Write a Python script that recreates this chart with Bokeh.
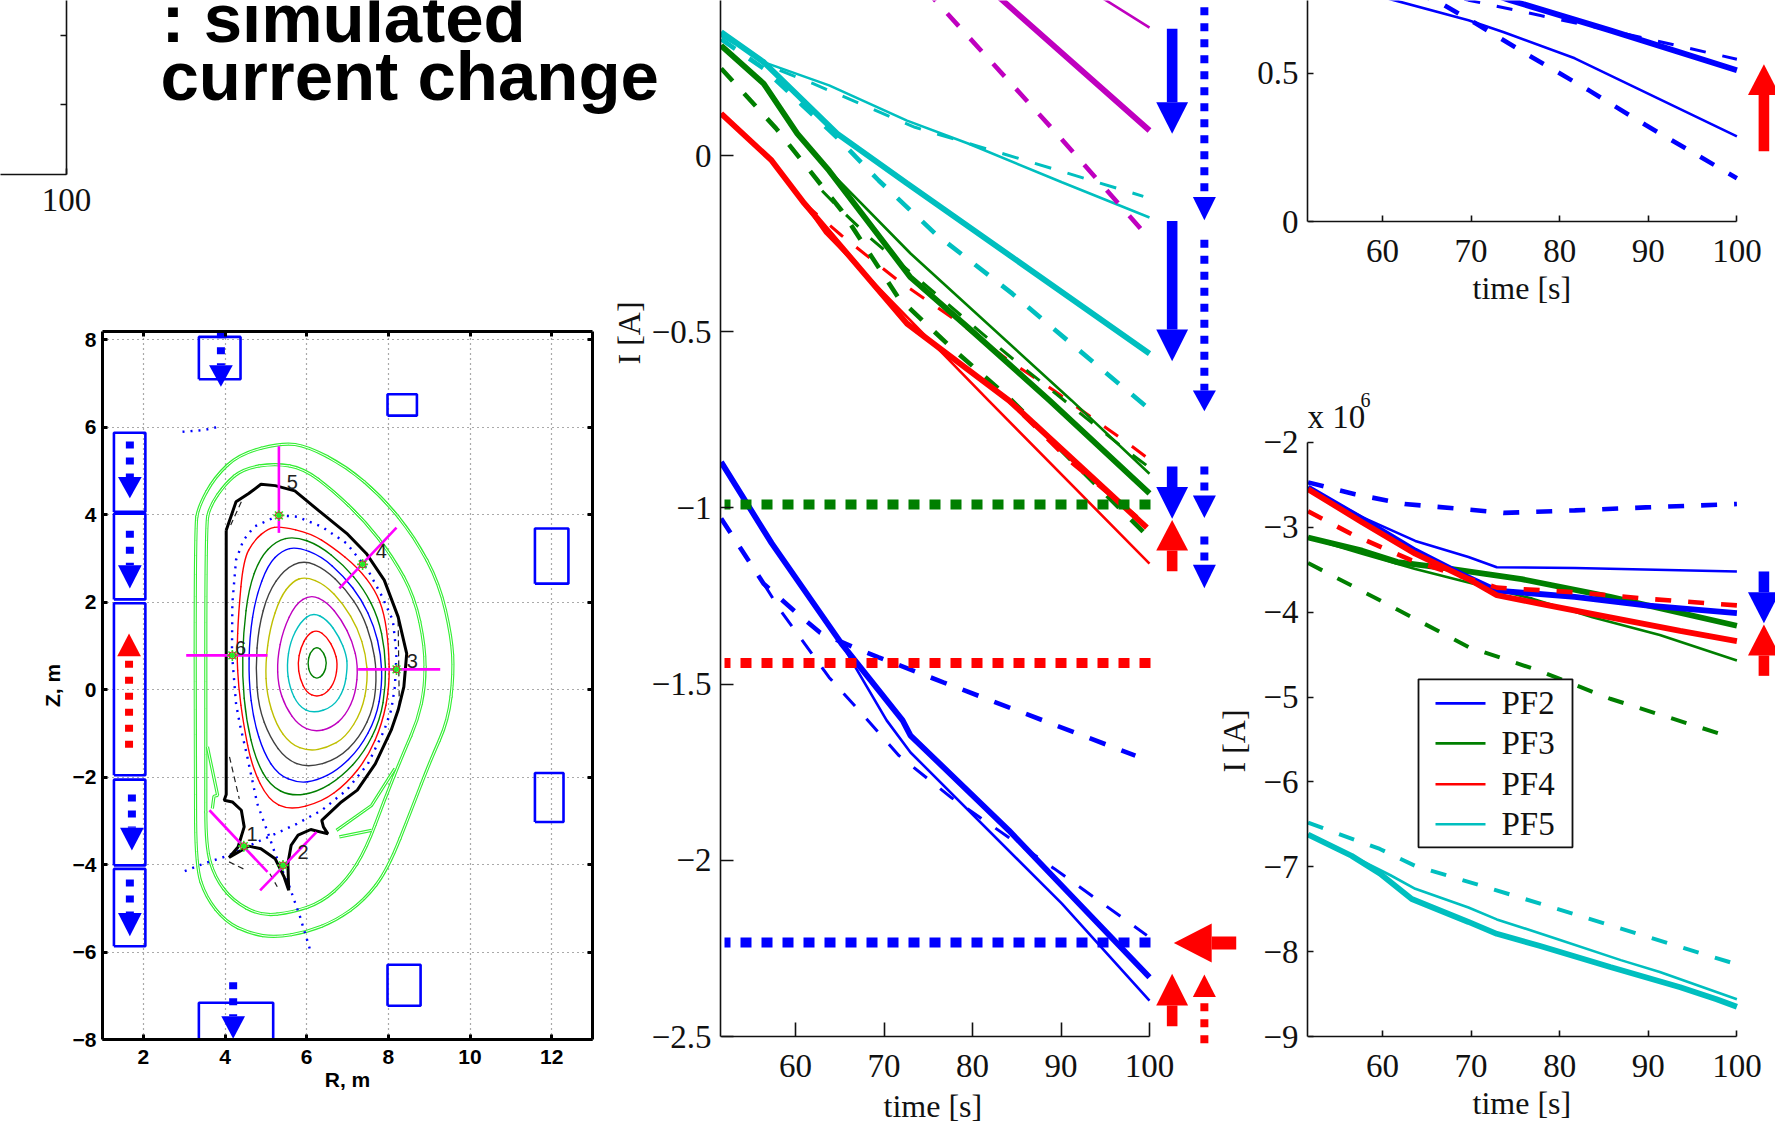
from bokeh.plotting import figure
from bokeh.models import Range1d, Label, LinearAxis, FixedTicker, Title
from bokeh.layouts import column
from bokeh.core.properties import value
from bokeh.embed import file_html
from bokeh.resources import INLINE

BLUE, GREEN, RED, CYAN, PURPLE = "#0000ff", "#007f00", "#ff0000", "#00bfbf", "#bf00bf"
SERIF, SANS = "Liberation Serif", "Liberation Sans"

# ------------------------------------------------------------ middle panel (t [s], I [A])
M_cyan_thick = ([51.6, 56.4, 64.7, 72.6, 100], [0.35, 0.265, 0.062, -0.079, -0.562])
M_cyan_thin = ([51.6, 56.4, 63.8, 72.6, 79.5, 90.1, 100], [0.35, 0.265, 0.199, 0.099, 0.034, -0.076, -0.176])
M_cyan_thin_d = ([51.6, 58.3, 62, 73.5, 80.4, 91, 99.3], [0.34, 0.241, 0.204, 0.08, 0.028, -0.052, -0.116])
M_cyan_thick_d = ([51.6, 56.4, 60.6, 64.7, 69.4, 75.8, 84.5, 93.8, 100], [0.33, 0.247, 0.147, 0.051, -0.071, -0.222, -0.392, -0.59, -0.72])
M_pur_thick = ([80, 83.4, 100], [0.516, 0.44, 0.071])
M_pur_thin = ([90, 95.1, 100], [0.52, 0.44, 0.363])
M_pur_d = ([72, 75.8, 89.2, 100], [0.546, 0.44, 0.071, -0.236])
M_grn_thick = ([51.6, 56.4, 60.2, 63.8, 73, 79.5, 88.7, 100], [0.312, 0.204, 0.062, -0.043, -0.346, -0.488, -0.695, -0.959])
M_grn_thin = ([51.6, 56.4, 60.2, 63.8, 73, 91.2, 100], [0.312, 0.204, 0.062, -0.043, -0.278, -0.695, -0.903])
M_grn_thick_d = ([51.6, 57.8, 65.2, 71.6, 77.6, 84.1, 99.7], [0.247, 0.077, -0.156, -0.403, -0.545, -0.687, -1.078])
M_grn_thin_d = ([63, 65.2, 68.4, 81.8, 85.9, 97.4, 99.7], [-0.1, -0.156, -0.233, -0.52, -0.605, -0.837, -0.88])
M_red_thick = ([51.6, 57.3, 61, 72.6, 84.1, 99.7], [0.119, -0.014, -0.136, -0.477, -0.695, -1.056])
M_red_thin = ([51.6, 57.3, 61, 63.4, 81.8, 100], [0.119, -0.014, -0.136, -0.221, -0.695, -1.158])
M_red_thick_d = ([61, 72.6, 84.1, 91, 99.7], [-0.136, -0.477, -0.695, -0.866, -1.05])
M_red_thin_d = ([61, 65.2, 71.6, 78.5, 84.1, 89.2, 97.9, 99.7], [-0.136, -0.227, -0.355, -0.474, -0.582, -0.667, -0.823, -0.857])
M_blu_thick = ([51.6, 57.3, 65.2, 72.1, 73, 84.1, 100], [-0.87, -1.10, -1.385, -1.603, -1.646, -1.915, -2.332])
M_blu_thin = ([51.6, 57.3, 65.2, 70.3, 73, 90.1, 100], [-0.87, -1.10, -1.385, -1.603, -1.694, -2.123, -2.398])
M_blu_thick_d = ([51.6, 56.4, 60.2, 62.8, 66.6, 69.4, 76.7, 84.1, 98.4], [-1.03, -1.215, -1.30, -1.354, -1.396, -1.424, -1.495, -1.566, -1.703])
M_blu_thin_d = ([56.4, 58.3, 63.8, 67.9, 71.7, 77.6, 84.1, 89.2, 99.7], [-1.215, -1.291, -1.481, -1.595, -1.703, -1.822, -1.935, -2.023, -2.213])
M_levels = [(-0.99, GREEN), (-1.44, RED), (-2.233, BLUE)]
M_yticks = [0, -0.5, -1, -1.5, -2, -2.5]
M_ylabels = ["0", "\u22120.5", "\u22121", "\u22121.5", "\u22122", "\u22122.5"]
T_ticks = [60, 70, 80, 90, 100]

# ------------------------------------------------------------ top right panel
T_thin = ([55, 61.3, 69.7, 73.7, 81.7, 100], [0.795, 0.746, 0.678, 0.638, 0.55, 0.287])
T_thick = ([70, 74.4, 85.6, 100], [0.79, 0.746, 0.645, 0.51])
T_thin_d = ([62, 69.7, 77.7, 85.6, 100], [0.8, 0.746, 0.695, 0.645, 0.547])
T_thick_d = ([60, 66, 70.5, 76.5, 83.3, 89.7, 100], [0.8, 0.746, 0.668, 0.56, 0.442, 0.325, 0.146])

# ------------------------------------------------------------ bottom right panel
B_blu_d = ([51.6, 56.9, 62.5, 71.7, 73.7, 81.7, 89.7, 100], [-2.47, -2.61, -2.725, -2.81, -2.83, -2.80, -2.765, -2.725])
B_blu_thin = ([51.6, 57.7, 63.7, 69.7, 72.9, 81.7, 100], [-2.53, -2.88, -3.16, -3.35, -3.47, -3.48, -3.52])
B_blu_thick = ([51.6, 57.7, 63.7, 68.9, 72.9, 81.7, 89.7, 100], [-2.53, -2.90, -3.275, -3.55, -3.745, -3.82, -3.92, -4.01])
B_red_thick = ([51.6, 57.7, 63.7, 69.7, 72.9, 77.7, 85.7, 93.6, 100], [-2.55, -2.94, -3.31, -3.61, -3.80, -3.90, -4.06, -4.22, -4.34])
B_red_d = ([51.6, 56.5, 63.3, 72.9, 81.7, 89.7, 100], [-2.81, -3.08, -3.39, -3.71, -3.765, -3.84, -3.92])
B_grn_thin = ([51.6, 57.7, 63.7, 69.7, 76.9, 83.7, 91.3, 100], [-3.12, -3.31, -3.49, -3.65, -3.84, -4.06, -4.27, -4.57])
B_grn_thick = ([51.6, 57.7, 61.7, 67.7, 75.7, 85.7, 100], [-3.12, -3.275, -3.41, -3.49, -3.61, -3.82, -4.16])
B_grn_d = ([51.6, 59.7, 69.7, 77.7, 85.7, 98.9], [-3.42, -3.86, -4.41, -4.69, -5.02, -5.46])
B_cyn_thick = ([51.6, 56.5, 59.7, 63.3, 69.7, 72.9, 77.7, 85.7, 93.6, 97.7, 100], [-6.62, -6.87, -7.08, -7.38, -7.65, -7.79, -7.93, -8.18, -8.42, -8.56, -8.65])
B_cyn_thin = ([51.6, 56.5, 60.9, 63.7, 69.7, 72.9, 79.7, 86.9, 91.3, 100], [-6.62, -6.87, -7.1, -7.26, -7.48, -7.62, -7.85, -8.1, -8.24, -8.56])
B_cyn_d = ([51.6, 59.7, 63.7, 71.7, 81.7, 100], [-6.48, -6.79, -6.99, -7.24, -7.56, -8.15])
B_yticks = [-2, -3, -4, -5, -6, -7, -8, -9]
B_ylabels = ["\u22122", "\u22123", "\u22124", "\u22125", "\u22126", "\u22127", "\u22128", "\u22129"]
LEGEND = ["PF2", "PF3", "PF4", "PF5"]
LEGEND_COLORS = [BLUE, GREEN, RED, CYAN]

# ------------------------------------------------------------ equilibrium panel (R [m], z [m])
E_coils = [(3.36, 4.38, 7.09, 8.06), (7.98, 8.70, 6.26, 6.75), (11.59, 12.41, 2.42, 3.68),
           (1.28, 2.05, 4.06, 5.87), (1.28, 2.05, 2.06, 4.02), (1.28, 2.05, -1.96, 1.97),
           (1.28, 2.05, -4.02, -2.06), (1.28, 2.05, -5.87, -4.10), (11.59, 12.29, -3.03, -1.91),
           (7.98, 8.79, -7.23, -6.29), (3.36, 5.18, -8.0, -7.16)]
E_wall = ([4.03, 4.27, 4.58, 4.88, 5.23, 5.71, 6.28, 6.98, 7.46, 7.90, 8.24, 8.45, 8.38, 8.24, 8.07, 7.68, 7.24, 6.85, 6.37, 6.41, 6.52, 6.10, 5.79, 5.62, 5.54, 5.56, 5.45, 5.23, 4.88, 4.58, 4.10, 4.32, 4.47, 4.40, 4.18, 3.98, 4.03, 4.03],
          [3.64, 4.29, 4.48, 4.69, 4.66, 4.54, 4.10, 3.57, 3.11, 2.50, 1.66, 0.82, 0.06, -0.47, -0.93, -1.70, -2.30, -2.57, -2.99, -3.14, -3.30, -3.20, -3.33, -3.56, -3.98, -4.59, -4.29, -3.87, -3.64, -3.58, -3.84, -3.60, -3.14, -2.76, -2.57, -2.53, -2.40, 3.64])
E_shell_a = ([3.27, 3.35, 3.75, 4.36, 5.41, 6.02, 6.98, 7.85, 8.64, 9.25, 9.55, 9.60, 9.47, 9.03, 8.59, 7.98, 7.41, 6.72, 6.02, 5.23, 4.62, 4.01, 3.53, 3.29, 3.27],
             [3.72, 4.18, 4.86, 5.39, 5.64, 5.56, 5.09, 4.40, 3.49, 2.42, 1.20, 0.37, -0.70, -1.62, -2.69, -4.13, -4.82, -5.28, -5.54, -5.67, -5.58, -5.31, -4.74, -4.06, -2.0])
E_shell_b = ([3.53, 3.62, 4.01, 4.45, 5.23, 5.93, 6.63, 7.41, 8.11, 8.64, 8.90, 8.90, 8.72, 8.38, 7.90, 7.46, 6.98, 6.37, 5.67, 4.88, 4.18, 3.75, 3.53, 3.53],
             [3.72, 4.18, 4.71, 5.05, 5.17, 5.05, 4.56, 3.87, 3.03, 2.12, 0.98, 0.06, -0.70, -1.43, -2.53, -3.64, -4.36, -4.86, -5.09, -5.18, -4.82, -4.29, -3.60, -2.0])
E_frag = [([3.57, 3.82, 3.73, 3.69], [-1.31, -2.42, -2.44, -2.72]),
          ([6.73, 7.59, 8.16], [-3.22, -2.65, -1.81]),
          ([6.80, 7.59], [-3.37, -3.22])]
E_contours = [
    (RED, [(5.36,3.73),(6.10,3.57),(6.63,3.26),(7.24,2.80),(7.68,2.27),(7.90,1.74),(8.01,0.98),(8.03,0.06),(7.85,-0.78),(7.50,-1.54),(6.98,-2.15),(6.37,-2.57),(5.58,-2.76),(5.06,-2.53),(4.66,-1.77),(4.45,-0.78),(4.33,0.06),(4.29,0.82),(4.33,1.74),(4.45,2.96),(4.71,3.41),(5.06,3.68)]),
    (GREEN, [(5.71,3.50),(6.3,3.3),(6.9,2.85),(7.4,2.3),(7.75,1.65),(7.92,0.9),(7.94,0.1),(7.8,-0.7),(7.4,-1.45),(6.85,-2.0),(6.25,-2.35),(5.62,-2.44),(5.1,-2.2),(4.75,-1.6),(4.52,-0.7),(4.42,0.3),(4.45,1.3),(4.58,2.3),(4.85,3.0),(5.25,3.4)]),
    (BLUE, [(5.76,3.26),(6.35,3.05),(6.9,2.6),(7.35,2.05),(7.65,1.45),(7.82,0.8),(7.85,0.1),(7.7,-0.65),(7.3,-1.35),(6.75,-1.85),(6.25,-2.08),(5.8,-2.14),(5.3,-1.95),(4.95,-1.45),(4.7,-0.7),(4.58,0.2),(4.6,1.2),(4.75,2.1),(5.05,2.85),(5.4,3.18)]),
    ("#404040", [(5.93,2.96),(6.45,2.75),(6.95,2.3),(7.35,1.75),(7.6,1.1),(7.72,0.4),(7.65,-0.4),(7.3,-1.1),(6.75,-1.6),(6.02,-1.79),(5.5,-1.6),(5.1,-1.1),(4.82,-0.4),(4.75,0.5),(4.82,1.4),(5.05,2.2),(5.45,2.75)]),
    ("#bfbf00", [(5.97,2.58),(6.45,2.4),(6.9,1.95),(7.25,1.4),(7.45,0.8),(7.5,0.2),(7.35,-0.5),(6.95,-1.1),(6.5,-1.33),(6.06,-1.41),(5.6,-1.25),(5.25,-0.8),(5.02,-0.1),(4.99,0.6),(5.1,1.4),(5.35,2.1),(5.65,2.47)]),
    (PURPLE, [(6.10,2.17),(6.5,2.0),(6.85,1.6),(7.12,1.1),(7.26,0.55),(7.2,-0.1),(6.95,-0.6),(6.6,-0.88),(6.19,-0.97),(5.8,-0.82),(5.48,-0.4),(5.3,0.1),(5.28,0.7),(5.42,1.35),(5.72,1.95)]),
    (CYAN, [(6.15,1.76),(6.5,1.6),(6.8,1.2),(6.97,0.8),(7.0,0.5),(6.92,0.0),(6.65,-0.4),(6.15,-0.55),(5.8,-0.38),(5.58,0.05),(5.51,0.55),(5.6,1.1),(5.85,1.55)]),
    (RED, [(6.25,1.37),(6.5,1.2),(6.68,0.9),(6.76,0.6),(6.7,0.2),(6.5,-0.08),(6.25,-0.17),(6.0,-0.08),(5.83,0.25),(5.78,0.6),(5.85,0.95),(6.02,1.25)]),
    (GREEN, [(6.25,0.99),(6.42,0.85),(6.5,0.6),(6.42,0.35),(6.25,0.23),(6.08,0.35),(6.02,0.6),(6.08,0.85)]),
]
E_sep = [([5.32, 5.76, 6.37, 6.98, 7.50, 7.85, 8.11, 8.20, 8.16, 8.07, 7.90, 7.50, 6.98, 6.37, 5.76, 5.23, 4.71, 4.10, 3.48, 2.96],
          [3.98, 3.95, 3.72, 3.34, 2.73, 2.12, 1.58, 0.82, 0.06, -0.47, -0.93, -1.70, -2.30, -2.76, -3.07, -3.30, -3.52, -3.79, -3.98, -4.17]),
         ([5.32, 4.71, 4.45, 4.27, 4.18, 4.17, 4.27, 4.36, 4.53, 4.79, 5.06, 5.23, 5.58, 5.84, 6.10],
          [3.98, 3.72, 3.41, 2.96, 1.97, 0.82, -0.32, -0.78, -1.47, -2.61, -3.30, -3.76, -4.51, -5.20, -6.0]),
         ([2.96, 3.48, 3.82], [5.89, 5.93, 6.0])]
E_dash = [([4.11, 4.35], [-1.54, -2.5]), ([4.10, 4.45], [-3.94, -4.1]), ([5.10, 5.28], [-4.21, -4.51]),
          ([4.40, 4.14], [4.29, 3.76]), ([8.24, 8.27], [1.58, -0.47])]
E_probe = [([5.32, 5.32], [5.56, 3.58]), ([6.80, 8.20], [2.31, 3.70]), ([3.05, 5.04], [0.78, 0.78]),
           ([7.26, 9.27], [0.46, 0.46]), ([3.62, 5.04], [-2.76, -4.17]), ([4.86, 6.24], [-4.59, -3.26])]
E_pts_R = [5.32, 7.37, 4.18, 8.20, 4.46, 5.42]
E_pts_z = [3.98, 2.86, 0.78, 0.46, -3.58, -4.02]
E_num = ["5", "4", "6", "3", "1", "2"]
E_num_R = [5.65, 7.83, 4.38, 8.59, 4.66, 5.91]
E_num_z = [4.75, 3.17, 0.94, 0.66, -3.30, -3.71]
E_xticks = [2, 4, 6, 8, 10, 12]
E_yticks = [-8, -6, -4, -2, 0, 2, 4, 6, 8]
E_ylabels = ["\u22128", "\u22126", "\u22124", "\u22122", "0", "2", "4", "6", "8"]

# arrows: x, tail, head base, tip, colour, dotted
E_arrows = [(3.90, 8.19, 7.41, 6.92, BLUE, True), (1.67, 5.67, 4.86, 4.37, BLUE, True), (1.67, 3.63, 2.84, 2.31, BLUE, True),
            (1.65, -1.33, 0.76, 1.28, RED, True), (1.72, -2.40, -3.16, -3.68, BLUE, True), (1.67, -4.34, -5.11, -5.64, BLUE, True),
            (4.20, -6.69, -7.47, -7.98, BLUE, True)]
M_arrows = [(102.56, 0.3595, 0.151, 0.0616, BLUE, False), (102.56, -0.186, -0.494, -0.584, BLUE, False),
            (102.56, -0.8825, -0.941, -1.031, BLUE, False), (102.56, -1.18, -1.121, -1.034, RED, False),
            (102.56, -2.471, -2.412, -2.322, RED, False),
            (106.2, 0.421, -0.118, -0.184, BLUE, True), (106.2, -0.239, -0.667, -0.726, BLUE, True),
            (106.2, -0.8825, -0.965, -1.029, BLUE, True), (106.2, -1.081, -1.161, -1.228, BLUE, True),
            (106.2, -2.519, -2.388, -2.324, RED, True)]
M_harrow = (109.8, 107.03, 102.75, -2.235, RED)
T_arrows = [(103.05, 0.237, 0.426, 0.53, RED, False)]
B_arrows = [(103.05, -3.52, -3.765, -4.13, BLUE, False), (103.05, -4.75, -4.51, -4.145, RED, False)]

wrappers = []
def panel(L, T, R, B, fl, ft, fr, fb, xr, yr, axes=True):
    kw = {} if axes else dict(x_axis_location=None, y_axis_location=None)
    p = figure(width=R - L, height=B - T, x_range=Range1d(*xr), y_range=Range1d(*yr), tools="",
               toolbar_location=None, output_backend="svg", background_fill_color=None,
               border_fill_color=None, outline_line_color=None,
               min_border_left=fl - L, min_border_right=R - fr, min_border_top=ft - T, min_border_bottom=B - fb,
               margin=0, **kw)
    p.grid.visible = False
    # each figure sits alone in its own box, so that Bokeh does not line frames up across panels
    wrappers.append(column(p, width=R - L, height=B - T, margin=0,
                           styles={"position": "absolute", "left": f"{L}px", "top": f"{T}px"}))
    return p

def style_axis(ax, size, tick, width=1.6, font=SERIF, fstyle="normal", standoff=9, color="#111111"):
    ax.axis_line_color = color
    ax.axis_line_width = width
    ax.major_tick_line_color = color
    ax.major_tick_line_width = width
    ax.major_tick_in = tick
    ax.major_tick_out = 0
    ax.minor_tick_line_color = None
    ax.major_label_text_font = font
    ax.major_label_text_font_size = size
    ax.major_label_text_font_style = fstyle
    ax.major_label_text_color = color
    ax.major_label_standoff = standoff
    ax.axis_label_text_font = font
    ax.axis_label_text_font_size = size
    ax.axis_label_text_font_style = fstyle
    ax.axis_label_text_color = color

def series_line(p, s, color, lw, dash=None):
    kw = dict(line_color=color, line_width=lw)
    if dash:
        kw["line_dash"] = dash
    return p.line(s[0], s[1], **kw)

def smooth(p, xs, ys, closed, **line):
    # a chain of the library's quadratic curve glyphs with the read points as control points
    n = len(xs)
    idx = range(n) if closed else range(1, n - 1)
    x0 = [(xs[i - 1] + xs[i]) / 2 for i in idx]
    y0 = [(ys[i - 1] + ys[i]) / 2 for i in idx]
    x1 = [(xs[i] + xs[(i + 1) % n]) / 2 for i in idx]
    y1 = [(ys[i] + ys[(i + 1) % n]) / 2 for i in idx]
    cx = [xs[i] for i in idx]
    cy = [ys[i] for i in idx]
    p.quadratic(x0=x0, y0=y0, x1=x1, y1=y1, cx=cx, cy=cy, line_cap="round", **line)

def draw_arrow(p, arrow, half_solid, half_dot, lw_solid, lw_dot, dash):
    x, tail, base, tip, c, dotted = arrow
    half = half_dot if dotted else half_solid
    kw = dict(line_color=c, line_width=lw_dot if dotted else lw_solid)
    if dotted:
        kw["line_dash"] = dash
    p.line([x, x], [tail, base], **kw)
    p.patch([x - half, x + half, x], [base, base, tip], fill_color=c, line_color=None)

def titled(p, side, text, offset, standoff):
    p.add_layout(Title(text=text, align="left", offset=offset, standoff=standoff, text_font=SERIF,
                       text_font_size="32px", text_font_style="normal", text_color="#111111"), side)

def time_axis(p, ticks, bounds, tick_len, offset=None, standoff=0):
    ax = p.xaxis[0]
    style_axis(ax, "33px", tick_len, standoff=18)
    ax.ticker = FixedTicker(ticks=ticks)
    ax.bounds = bounds
    if offset is not None:
        titled(p, "below", "time [s]", offset, standoff)

def tv(px, x60):
    return 60 + (px - x60) / 8.85

# ================= top-left fragment
p = panel(0, 0, 120, 240, 0, 0, 66, 174, (100 - 66 / 8.85, 100), (0, 1.25))
style_axis(p.xaxis[0], "33px", 6, standoff=14)
p.xaxis[0].ticker = FixedTicker(ticks=[100])
p.xaxis[0].bounds = (100 - 66 / 8.85, 100)
p.yaxis.visible = False
ra = LinearAxis(ticker=FixedTicker(ticks=[0.5, 1.0]), major_label_overrides={0.5: "", 1.0: ""})
style_axis(ra, "12px", 6)
p.add_layout(ra, "right")

# ================= big annotation text
p = panel(150, 0, 700, 130, 150, 0, 700, 130, (150, 700), (130, 0), axes=False)
for x, y, t in [(161, 18, ": simulated"), (160, 76, "current change")]:
    p.add_layout(Label(x=x, y=y, text=t, text_font=SANS, text_font_style="bold", text_font_size="69px",
                       text_color="#000000", text_baseline="alphabetic"))

# ================= equilibrium
ez = 43.75
p = panel(25, 320, 600, 1100, 102, 331, 592, 1039, (1.0, 13.0), (-8.0, 8.0 + (339 - 331) / ez))
for ax in (p.xaxis[0], p.yaxis[0]):
    style_axis(ax, "21px", 5, width=3, font=SANS, fstyle="bold", standoff=6, color="#000000")
p.xaxis[0].major_label_standoff = 10
p.xaxis[0].ticker = FixedTicker(ticks=E_xticks)
p.yaxis[0].ticker = FixedTicker(ticks=E_yticks)
p.yaxis[0].major_label_overrides = dict(zip(E_yticks, E_ylabels))
p.xaxis[0].axis_label = "R, m"
p.yaxis[0].axis_label = "Z, m"
p.xaxis[0].axis_label_standoff = 1
p.yaxis[0].axis_label_standoff = 6
ta = LinearAxis(ticker=FixedTicker(ticks=E_xticks), major_label_overrides={t: "" for t in E_xticks})
style_axis(ta, "12px", 5, width=3, font=SANS, color="#000000")
p.add_layout(ta, "above")
rb = LinearAxis(ticker=FixedTicker(ticks=E_yticks), major_label_overrides={t: "" for t in E_yticks})
style_axis(rb, "12px", 5, width=3, font=SANS, color="#000000")
p.add_layout(rb, "right")
p.grid.visible = True
p.xgrid.ticker = FixedTicker(ticks=E_xticks)
p.ygrid.ticker = FixedTicker(ticks=E_yticks)
p.grid.grid_line_color = "#555555"
p.grid.grid_line_width = 1.2
p.grid.grid_line_dash = "1 4"
for s in (E_shell_a, E_shell_b):
    smooth(p, s[0], s[1], True, line_color="#33ee33", line_width=3.2)
    smooth(p, s[0], s[1], True, line_color="#ffffff", line_width=1.0)
for s in E_frag:
    p.line(s[0], s[1], line_color="#33ee33", line_width=3.2)
    p.line(s[0], s[1], line_color="#ffffff", line_width=1.0)
for c, pts in E_contours:
    smooth(p, [q[0] for q in pts], [q[1] for q in pts], True, line_color=c, line_width=1.4)
for s in E_sep:
    p.line(s[0], s[1], line_color=BLUE, line_width=2.4, line_dash="2 6")
for s in E_dash:
    p.line(s[0], s[1], line_color="#222222", line_width=1.2, line_dash="6 4")
p.line(E_wall[0], E_wall[1], line_color="#000000", line_width=3)
for s in E_probe:
    p.line(s[0], s[1], line_color="#ff00ff", line_width=2.6)
p.scatter(E_pts_R, E_pts_z, marker="asterisk", size=11, line_color="#22ee22", line_width=1.6)
p.scatter(E_pts_R, E_pts_z, marker="circle", size=7, fill_color=None, line_color="#cc3333", line_width=1)
for x0, x1, y0, y1 in E_coils:
    p.line([x0, x1, x1, x0, x0], [y0, y0, y1, y1, y0], line_color=BLUE, line_width=2.6)
p.text(E_num_R, E_num_z, text=E_num, text_font=value(SANS), text_font_size="20px", text_color="#222222",
       text_align="center", text_baseline="middle")
for a in E_arrows:
    draw_arrow(p, a, 0.29, 0.29, 8, 8, "7 9")

# ================= middle
mx = (tv(720, 795), tv(1240, 795))
my_top = 155 / 352.4
p = panel(600, 0, 1240, 1122, 720, 0, 1240, 1036, mx, (-2.5, my_top))
time_axis(p, T_ticks, (51.6, 100), 14)
style_axis(p.yaxis[0], "33px", 13)
p.yaxis[0].ticker = FixedTicker(ticks=M_yticks)
p.yaxis[0].major_label_overrides = dict(zip(M_yticks, M_ylabels))
p.yaxis[0].bounds = (-2.5, my_top)
titled(p, "left", "I [A]", 672, 4)
TH, TN, TD, ND = 5.8, 2.6, 4.6, 3.0
DASH = "17 17"
for s, c in [(M_pur_thin, PURPLE), (M_cyan_thin, CYAN)]:
    series_line(p, s, c, TN)
series_line(p, M_pur_thick, PURPLE, TH)
series_line(p, M_pur_d, PURPLE, TD, DASH)
series_line(p, M_cyan_thin_d, CYAN, ND, DASH)
series_line(p, M_cyan_thick_d, CYAN, TD, DASH)
series_line(p, M_cyan_thick, CYAN, TH)
series_line(p, M_red_thin_d, RED, ND, DASH)
series_line(p, M_grn_thin_d, GREEN, ND, DASH)
series_line(p, M_grn_thin, GREEN, TN)
series_line(p, M_grn_thick, GREEN, TH)
series_line(p, M_grn_thick_d, GREEN, TD, DASH)
series_line(p, M_red_thin, RED, TN)
series_line(p, M_red_thick, RED, TH)
series_line(p, M_red_thick_d, RED, TD, DASH)
series_line(p, M_blu_thin_d, BLUE, ND, DASH)
series_line(p, M_blu_thick_d, BLUE, TD, DASH)
series_line(p, M_blu_thin, BLUE, TN)
series_line(p, M_blu_thick, BLUE, TH)
for y, c in M_levels:
    p.line([tv(724, 795), tv(1156, 795)], [y, y], line_color=c, line_width=10, line_dash="11 10", line_dash_offset=5)

# the middle panel's time label, on a small layer of its own below the tick labels
t_lab = panel(800, 1085, 1100, 1122, 800, 1085, 1100, 1122, (800, 1100), (1122, 1085), axes=False)
t_lab.add_layout(Label(x=883, y=1105, text="time [s]", text_font=SERIF, text_font_size="32px",
                       text_color="#111111", text_baseline="middle"))

# arrows of the middle panel, on their own transparent layer so they may pass the time axis
q = panel(1150, 0, 1240, 1060, 1150, 0, 1240, 1060, (tv(1150, 795), tv(1240, 795)), (-(1060 - 155) / 352.4, my_top), axes=False)
for a in M_arrows:
    draw_arrow(q, a, 1.8, 1.3, 10.6, 8, "8 8")
xt, xb, xtip, yh, c = M_harrow
q.line([xt, xb], [yh, yh], line_color=c, line_width=13)
q.patch([xb, xb, xtip], [yh - 19.5 / 352.4, yh + 19.5 / 352.4, yh], fill_color=c, line_color=None)

# ================= top right
RX = (60 + (1307 - 1382) / 8.86, 60 + (1775 - 1382) / 8.86)
p = panel(1230, 0, 1775, 310, 1307, 0, 1775, 221, RX, (0, 221 / 296.7))
time_axis(p, T_ticks, (51.6, 100), 6, 165, 6)
style_axis(p.yaxis[0], "33px", 6)
p.yaxis[0].ticker = FixedTicker(ticks=[0, 0.5])
p.yaxis[0].major_label_overrides = {0: "0", 0.5: "0.5"}
p.yaxis[0].bounds = (0, 221 / 296.7)
series_line(p, T_thin_d, BLUE, ND, "16 17")
series_line(p, T_thick_d, BLUE, TD, "16 17")
series_line(p, T_thin, BLUE, TN)
series_line(p, T_thick, BLUE, TH)
for a in T_arrows:
    draw_arrow(p, a, 1.8, 1.8, 10.6, 8, "8 8")

# ================= bottom right
btop = -2 + (442 - 390) / 84.9
p = panel(1195, 390, 1775, 1150, 1307, 390, 1775, 1036, RX, (-9, btop))
time_axis(p, T_ticks, (51.6, 100), 6, 165, 7)
style_axis(p.yaxis[0], "33px", 6)
p.yaxis[0].ticker = FixedTicker(ticks=B_yticks)
p.yaxis[0].major_label_overrides = dict(zip(B_yticks, B_ylabels))
p.yaxis[0].bounds = (-9, -2)
titled(p, "left", "I [A]", 264, 17)
DB = "16 17"
series_line(p, B_grn_d, GREEN, 4, DB)
series_line(p, B_cyn_d, CYAN, 4, DB)
series_line(p, B_blu_d, BLUE, 4.6, DB)
series_line(p, B_cyn_thin, CYAN, TN)
series_line(p, B_cyn_thick, CYAN, TH)
series_line(p, B_grn_thin, GREEN, TN)
series_line(p, B_grn_thick, GREEN, TH)
series_line(p, B_blu_thin, BLUE, TN)
series_line(p, B_blu_thick, BLUE, TH)
series_line(p, B_red_d, RED, 4.6, DB)
series_line(p, B_red_thick, RED, TH)
# legend box, sample lines and names, in the panel's own coordinates
def bx(px):
    return 60 + (px - 1382) / 8.86
def by(py):
    return -2 - (py - 442) / 84.9
p.quad(left=[bx(1418)], right=[bx(1572)], top=[by(679)], bottom=[by(847)], fill_color="#ffffff",
       line_color="#111111", line_width=1.8)
for name, col, yy in zip(LEGEND, LEGEND_COLORS, [703, 743, 784, 824]):
    p.line([bx(1435), bx(1485)], [by(yy), by(yy)], line_color=col, line_width=2.6)
    p.add_layout(Label(x=bx(1501), y=by(yy), text=name, text_font=SERIF, text_font_size="33px",
                       text_color="#111111", text_baseline="middle"))
p.add_layout(Label(x=bx(1307), y=by(417), text="x 10", text_font=SERIF, text_font_size="33px",
                   text_color="#111111", text_baseline="alphabetic"))
p.add_layout(Label(x=bx(1360), y=by(400), text="6", text_font=SERIF, text_font_size="20px",
                   text_color="#111111", text_baseline="alphabetic"))
for a in B_arrows:
    draw_arrow(p, a, 1.8, 1.8, 10.6, 8, "8 8")

root = column(*wrappers, width=1775, height=1122, margin=0, styles={"position": "relative", "overflow": "hidden"})
open("out.html", "w").write(file_html(root, INLINE))
